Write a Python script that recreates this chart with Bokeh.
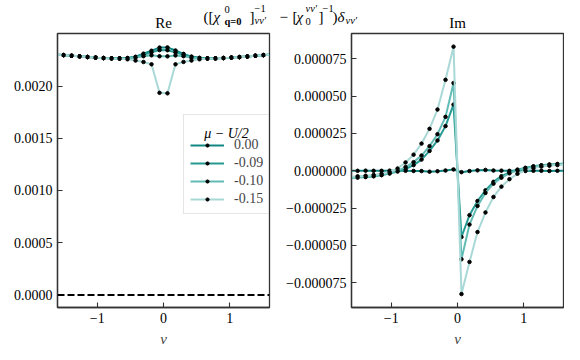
from bokeh.plotting import figure
from bokeh.models import Range1d, FixedTicker, Label, Legend, LegendItem, Span, ColumnDataSource
from bokeh.layouts import row, column
from bokeh.embed import file_html
from bokeh.resources import INLINE

# ---------------- data ----------------
NU = [-1.628, -1.508, -1.387, -1.266, -1.146, -1.025, -0.905, -0.784, -0.663, -0.543, -0.422, -0.302, -0.181, -0.060,
      0.060, 0.181, 0.302, 0.422, 0.543, 0.663, 0.784, 0.905, 1.025, 1.146, 1.266, 1.387, 1.508, 1.628]

MU_LABELS = ["0.00", "-0.09", "-0.10", "-0.15"]

RE_000 = [0.002300, 0.002296, 0.002290, 0.002284, 0.002278, 0.002272, 0.002268, 0.002265, 0.002265, 0.002268, 0.002280, 0.002310, 0.002338, 0.002368,
          0.002370, 0.002340, 0.002308, 0.002282, 0.002270, 0.002266, 0.002265, 0.002268, 0.002272, 0.002277, 0.002283, 0.002290, 0.002296, 0.002301]
RE_009 = [0.002300, 0.002296, 0.002290, 0.002284, 0.002278, 0.002272, 0.002268, 0.002265, 0.002265, 0.002267, 0.002277, 0.002300, 0.002324, 0.002344,
          0.002343, 0.002322, 0.002299, 0.002278, 0.002268, 0.002265, 0.002265, 0.002268, 0.002272, 0.002277, 0.002283, 0.002290, 0.002296, 0.002301]
RE_010 = [0.002300, 0.002296, 0.002290, 0.002284, 0.002278, 0.002272, 0.002268, 0.002265, 0.002264, 0.002266, 0.002273, 0.002286, 0.002294, 0.002285,
          0.002284, 0.002293, 0.002286, 0.002272, 0.002266, 0.002264, 0.002265, 0.002268, 0.002272, 0.002277, 0.002283, 0.002290, 0.002296, 0.002301]
RE_015 = [0.002300, 0.002296, 0.002290, 0.002284, 0.002278, 0.002272, 0.002267, 0.002264, 0.002262, 0.002256, 0.002244, 0.002230, 0.002208, 0.001935,
          0.001930, 0.002208, 0.002231, 0.002244, 0.002256, 0.002262, 0.002264, 0.002268, 0.002272, 0.002277, 0.002283, 0.002290, 0.002296, 0.002301]

# imaginary part, in units of 1e-6
IM_000 = [0.0, 0.0, 0.1, 0.0, 0.0, 0.1, 0.0, 0.0, -0.1, -0.2, -0.6, -0.3, 0.2, 0.9,
          -0.9, -0.2, 0.3, 0.6, 0.2, 0.1, 0.0, 0.0, -0.1, 0.0, 0.0, -0.1, 0.0, 0.0]
IM_009 = [-4.6, -4.4, -4.1, -3.6, -2.9, -1.8, -0.5, 1.2, 3.8, 7.5, 13.3, 20.3, 29.9, 44.3,
          -44.3, -29.7, -20.2, -13.1, -7.4, -3.6, -1.0, 0.8, 2.0, 3.0, 3.7, 4.2, 4.5, 4.7]
IM_010 = [-4.7, -4.5, -4.1, -3.6, -2.8, -1.6, 0.0, 2.5, 5.8, 10.2, 16.5, 24.5, 36.1, 58.7,
          -59.2, -36.0, -23.5, -14.8, -8.6, -4.6, -1.7, 0.4, 1.7, 2.8, 3.6, 4.1, 4.5, 4.8]
IM_015 = [-4.0, -3.7, -3.3, -2.8, -2.0, -0.8, 1.5, 5.6, 10.8, 18.2, 28.1, 41.0, 60.9, 83.1,
          -82.5, -61.0, -41.0, -27.9, -17.5, -10.6, -5.6, -2.0, 0.3, 1.8, 2.8, 3.4, 3.8, 4.0]

X_TICKS = [-1, 0, 1]
X_LABELS = ["\u22121", "0", "1"]
RE_TICKS = [0.0, 0.0005, 0.001, 0.0015, 0.002]
RE_LABELS = ["0.0000", "0.0005", "0.0010", "0.0015", "0.0020"]
IM_TICKS = [-7.5e-05, -5e-05, -2.5e-05, 0.0, 2.5e-05, 5e-05, 7.5e-05]
IM_LABELS = ["\u22120.000075", "\u22120.000050", "\u22120.000025", "0.000000", "0.000025", "0.000050", "0.000075"]

# ---------------- style ----------------
FONT = "Liberation Serif"
COLORS = ["#138784", "#249a92", "#62bcb5", "#a9d9d6"]
SPINE = "#333333"
FRAME_W, FRAME_H = 212, 274
HEAD_H = 32
TOP, BOTTOM = 1, 37


def make_fig(yr, yticks, ylabels, left, right):
    p = figure(frame_width=FRAME_W, frame_height=FRAME_H,
               min_border_left=left, min_border_right=right,
               min_border_top=TOP, min_border_bottom=BOTTOM,
               x_range=Range1d(-1.6, 1.6), y_range=Range1d(*yr),
               output_backend="svg", toolbar_location=None)
    p.xgrid.visible = False
    p.ygrid.visible = False
    p.outline_line_color = SPINE
    p.outline_line_width = 1.3
    p.background_fill_color = "white"
    p.border_fill_color = "white"
    for ax in (p.xaxis[0], p.yaxis[0]):
        ax.axis_line_color = SPINE
        ax.axis_line_width = 1.3
        ax.major_tick_in = 5
        ax.major_tick_out = 0
        ax.major_tick_line_color = SPINE
        ax.major_tick_line_width = 1.1
        ax.minor_tick_line_color = None
        ax.major_label_text_font = FONT
        ax.major_label_text_font_size = "14px"
        ax.major_label_text_color = "black"
        ax.major_label_standoff = 5
    p.xaxis.ticker = FixedTicker(ticks=X_TICKS)
    p.xaxis.major_label_overrides = dict(zip(X_TICKS, X_LABELS))
    p.yaxis.ticker = FixedTicker(ticks=yticks)
    p.yaxis.major_label_overrides = dict(zip(yticks, ylabels))
    p.xaxis.axis_label = "\u03bd"
    p.xaxis.axis_label_text_font = FONT
    p.xaxis.axis_label_text_font_style = "italic"
    p.xaxis.axis_label_text_font_size = "15px"
    p.xaxis.axis_label_standoff = 5
    return p


# ---------------- header (titles) ----------------
head = figure(frame_width=564, frame_height=HEAD_H, min_border=0,
              x_range=Range1d(0, 564), y_range=Range1d(HEAD_H, 0),
              x_axis_location=None, y_axis_location=None,
              output_backend="svg", toolbar_location=None)
head.xgrid.visible = False
head.ygrid.visible = False
head.outline_line_color = None
head.background_fill_color = "white"
head.border_fill_color = "white"


def htext(text, x, y, size, style="normal", align="left"):
    head.add_layout(Label(x=x, y=y, text=text, text_font=FONT, text_font_size=f"{size}px",
                          text_font_style=style, text_align=align,
                          text_baseline="alphabetic", text_color="black"))


htext("Re", 163, 22, 15, "normal", "center")
htext("Im", 457, 22, 15, "normal", "center")
# supertitle  ([chi^0_{q=0}]^{-1}_{nu nu'} - [chi_0^{nu nu'}]^{-1}) delta_{nu nu'}
htext("([", 203, 16, 15)
htext("\u03c7", 213, 16, 15, "italic")
htext("0", 224, 9, 10.5)
htext("q=0", 224, 21, 10.5, "bold")
htext("]", 249, 16, 15)
htext("\u22121", 254, 8, 10.5)
htext("\u03bd\u03bd\u2032", 254, 20, 10.5, "italic")
htext("\u2212", 279, 16, 15)
htext("[", 292, 16, 15)
htext("\u03c7", 296, 16, 15, "italic")
htext("\u03bd\u03bd\u2032", 305, 8, 10.5, "italic")
htext("0", 305, 21, 10.5)
htext("]", 318, 16, 15)
htext("\u22121", 322, 8, 10.5)
htext(")", 332, 16, 15)
htext("\u03b4", 337, 16, 15, "italic")
htext("\u03bd\u03bd\u2032", 345, 20, 10.5, "italic")

# ---------------- Re panel ----------------
p1 = make_fig((-0.0001207, 0.002503), RE_TICKS, RE_LABELS, 57, 6)
p1.add_layout(Span(location=0, dimension="width", line_color="black",
                   line_width=2, line_dash="7 3"))
items = []
for lab, ys, col in zip(MU_LABELS, [RE_000, RE_009, RE_010, RE_015], COLORS):
    src = ColumnDataSource(dict(x=NU, y=ys))
    lr = p1.line("x", "y", source=src, line_color=col, line_width=2)
    sr = p1.scatter("x", "y", source=src, size=3.5, color="black")
    items.append(LegendItem(label=lab, renderers=[lr, sr]))

legend = Legend(items=items, location=(126, 93), title=" ",
                title_text_font_size="12px", title_standoff=2,
                label_text_font=FONT, label_text_font_size="14px",
                glyph_width=34, glyph_height=8, label_height=14,
                label_standoff=10, spacing=2, padding=6, margin=0,
                border_line_color="#cccccc", border_line_width=1,
                background_fill_alpha=0.0)
p1.add_layout(legend)
p1.add_layout(Label(x=169, y=174, x_units="screen", y_units="screen",
                    text="\u03bc \u2212 U/2", text_font=FONT, text_font_size="14px",
                    text_font_style="italic", text_align="center",
                    text_baseline="alphabetic", text_color="black"))

# ---------------- Im panel ----------------
p2 = make_fig((-91.5e-6, 91.9e-6), IM_TICKS, IM_LABELS, 76, 1)
for lab, ys, col in zip(MU_LABELS, [IM_000, IM_009, IM_010, IM_015], COLORS):
    src = ColumnDataSource(dict(x=NU, y=[v * 1e-6 for v in ys]))
    p2.line("x", "y", source=src, line_color=col, line_width=2)
    p2.scatter("x", "y", source=src, size=3.5, color="black")

layout = column(head, row(p1, p2))
open("out.html", "w").write(file_html(layout, INLINE))
